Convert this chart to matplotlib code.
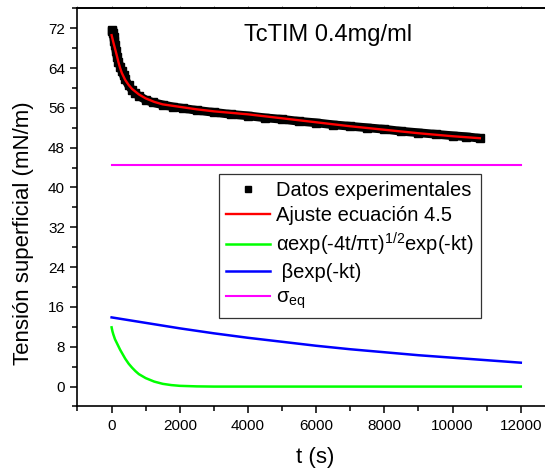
import matplotlib
matplotlib.use("Agg")
import matplotlib.pyplot as plt
from matplotlib.ticker import MultipleLocator

plt.rcParams['font.family'] = ['Liberation Sans', 'DejaVu Sans']
plt.rcParams['mathtext.fontset'] = 'custom'
plt.rcParams['mathtext.rm'] = 'Liberation Sans'
plt.rcParams['mathtext.it'] = 'Liberation Sans:italic'

t_exp = [0, 20, 40, 60, 80, 100, 130, 160, 200, 250, 300, 350, 400, 500, 600,
         700, 800, 1000, 1200, 1500, 1800, 2100, 2500, 3000, 3500, 4000, 4500,
         5000, 5500, 6000, 6500, 7000, 7500, 8000, 8500, 9000, 9500, 10000,
         10400, 10800]
sigma_exp = [71.6, 71.4, 71.0, 70.3, 69.5, 68.6, 67.4, 66.3, 65.3, 64.3, 63.4,
             62.5, 61.7, 60.5, 59.6, 58.9, 58.4, 57.6, 57.1, 56.6, 56.2, 55.9,
             55.5, 55.1, 54.7, 54.4, 54.0, 53.7, 53.3, 53.0, 52.6, 52.3, 52.0,
             51.7, 51.3, 51.0, 50.7, 50.4, 50.2, 49.9]

# fit (eq. 4.5)
t_fit = [0, 50, 100, 150, 200, 250, 300, 400, 500, 600, 800, 1000, 1250, 1500,
         2000, 2500, 3000, 4000, 5000, 6000, 7000, 8000, 9000, 10000, 10800]
sigma_fit = [70.6, 69.2, 67.9, 66.6, 65.2, 64.0, 63.0, 61.6, 60.6, 59.8, 58.7,
             57.9, 57.2, 56.7, 56.2, 55.7, 55.3, 54.7, 53.9, 53.1, 52.3, 51.6,
             50.9, 50.3, 49.9]

# diffusion term
t_green = [0, 25, 50, 75, 100, 150, 200, 250, 300, 400, 500, 600, 700, 800,
           900, 1000, 1250, 1500, 1750, 2000, 2500, 3000, 4000, 12000]
alpha_term = [11.9, 11.1, 10.5, 10.0, 9.5, 8.8, 8.1, 7.4, 6.8, 5.6, 4.6, 3.8,
              3.1, 2.5, 2.1, 1.7, 1.0, 0.55, 0.3, 0.15, 0.04, 0.0, 0.0, 0.0]

# kinetic term
t_blue = [0, 1000, 2000, 3000, 4000, 5000, 6000, 7000, 8000, 9000, 10000, 11000, 12000]
beta_term = [13.9, 12.8, 11.7, 10.7, 9.8, 9.0, 8.2, 7.5, 6.9, 6.3, 5.8, 5.3, 4.8]

t_eq = [0, 12000]
sigma_eq = [44.6, 44.6]

fig = plt.figure(figsize=(5.45, 4.72), dpi=100)
ax = fig.add_axes([0.1422, 0.1388, 0.9385, 0.8436])

ax.plot(t_exp, sigma_exp, '-s', color='black', lw=6.3, ms=5.5, solid_capstyle='butt')
ax.plot(t_fit, sigma_fit, color='#ff0000', lw=1.7)
ax.plot(t_green, alpha_term, color='#00ff00', lw=1.8)
ax.plot(t_blue, beta_term, color='#0000ff', lw=1.8)
ax.plot(t_eq, sigma_eq, color='#ff00ff', lw=1.5)

# legend proxies
ax.plot([], [], 's', color='black', ms=5, label='Datos experimentales')
ax.plot([], [], color='#ff0000', lw=1.7, label='Ajuste ecuación 4.5')
ax.plot([], [], color='#00ff00', lw=1.8, label=r'αexp(-4t/πτ)$^{\mathregular{1/2}}$exp(-kt)')
ax.plot([], [], color='#0000ff', lw=1.8, label=' βexp(-kt)')
ax.plot([], [], color='#ff00ff', lw=1.5, label=r'σ$_{\mathrm{eq}}$')
leg = ax.legend(loc='upper left', bbox_to_anchor=(219 / 545, (472 - 174) / 472),
                bbox_transform=fig.transFigure, fontsize=14.5, frameon=True, fancybox=False,
                edgecolor='black', borderpad=0.35, borderaxespad=0, handlelength=2.2,
                handletextpad=0.3, labelspacing=0.28)
leg.get_frame().set_linewidth(0.9)

ax.set_xlim(-1000, 14000)
ax.set_ylim(-4, 76)
ax.set_xticks(range(0, 12001, 2000))
ax.xaxis.set_minor_locator(MultipleLocator(1000))
ax.yaxis.set_major_locator(MultipleLocator(8))
ax.yaxis.set_minor_locator(MultipleLocator(4))
ax.spines['right'].set_visible(False)
for s in ['left', 'bottom', 'top']:
    ax.spines[s].set_linewidth(1.2)
ax.tick_params(axis='both', which='major', direction='out', length=5, width=1.1,
               labelsize=11, pad=4)
ax.tick_params(axis='both', which='minor', direction='out', length=3.3, width=1.1)
ax.tick_params(top=False, right=False, which='both')

sec = ax.secondary_xaxis('top')
sec.xaxis.set_major_locator(MultipleLocator(1000))
sec.tick_params(direction='out', length=1.5, width=0.6, colors='#666666', labeltop=False)
sec.spines['top'].set_linewidth(1.2)

fig.text(327.6 / 545, (472 - 35) / 472, 'TcTIM 0.4mg/ml', fontsize=17, ha='center', va='center')
fig.text(23.5 / 545, (472 - 233) / 472, 'Tensión superficial (mN/m)', fontsize=16,
         rotation=90, ha='center', va='center')
fig.text(315 / 545, (472 - 458) / 472, 't (s)', fontsize=16, ha='center', va='center')

fig.savefig('out.png', dpi=100)
